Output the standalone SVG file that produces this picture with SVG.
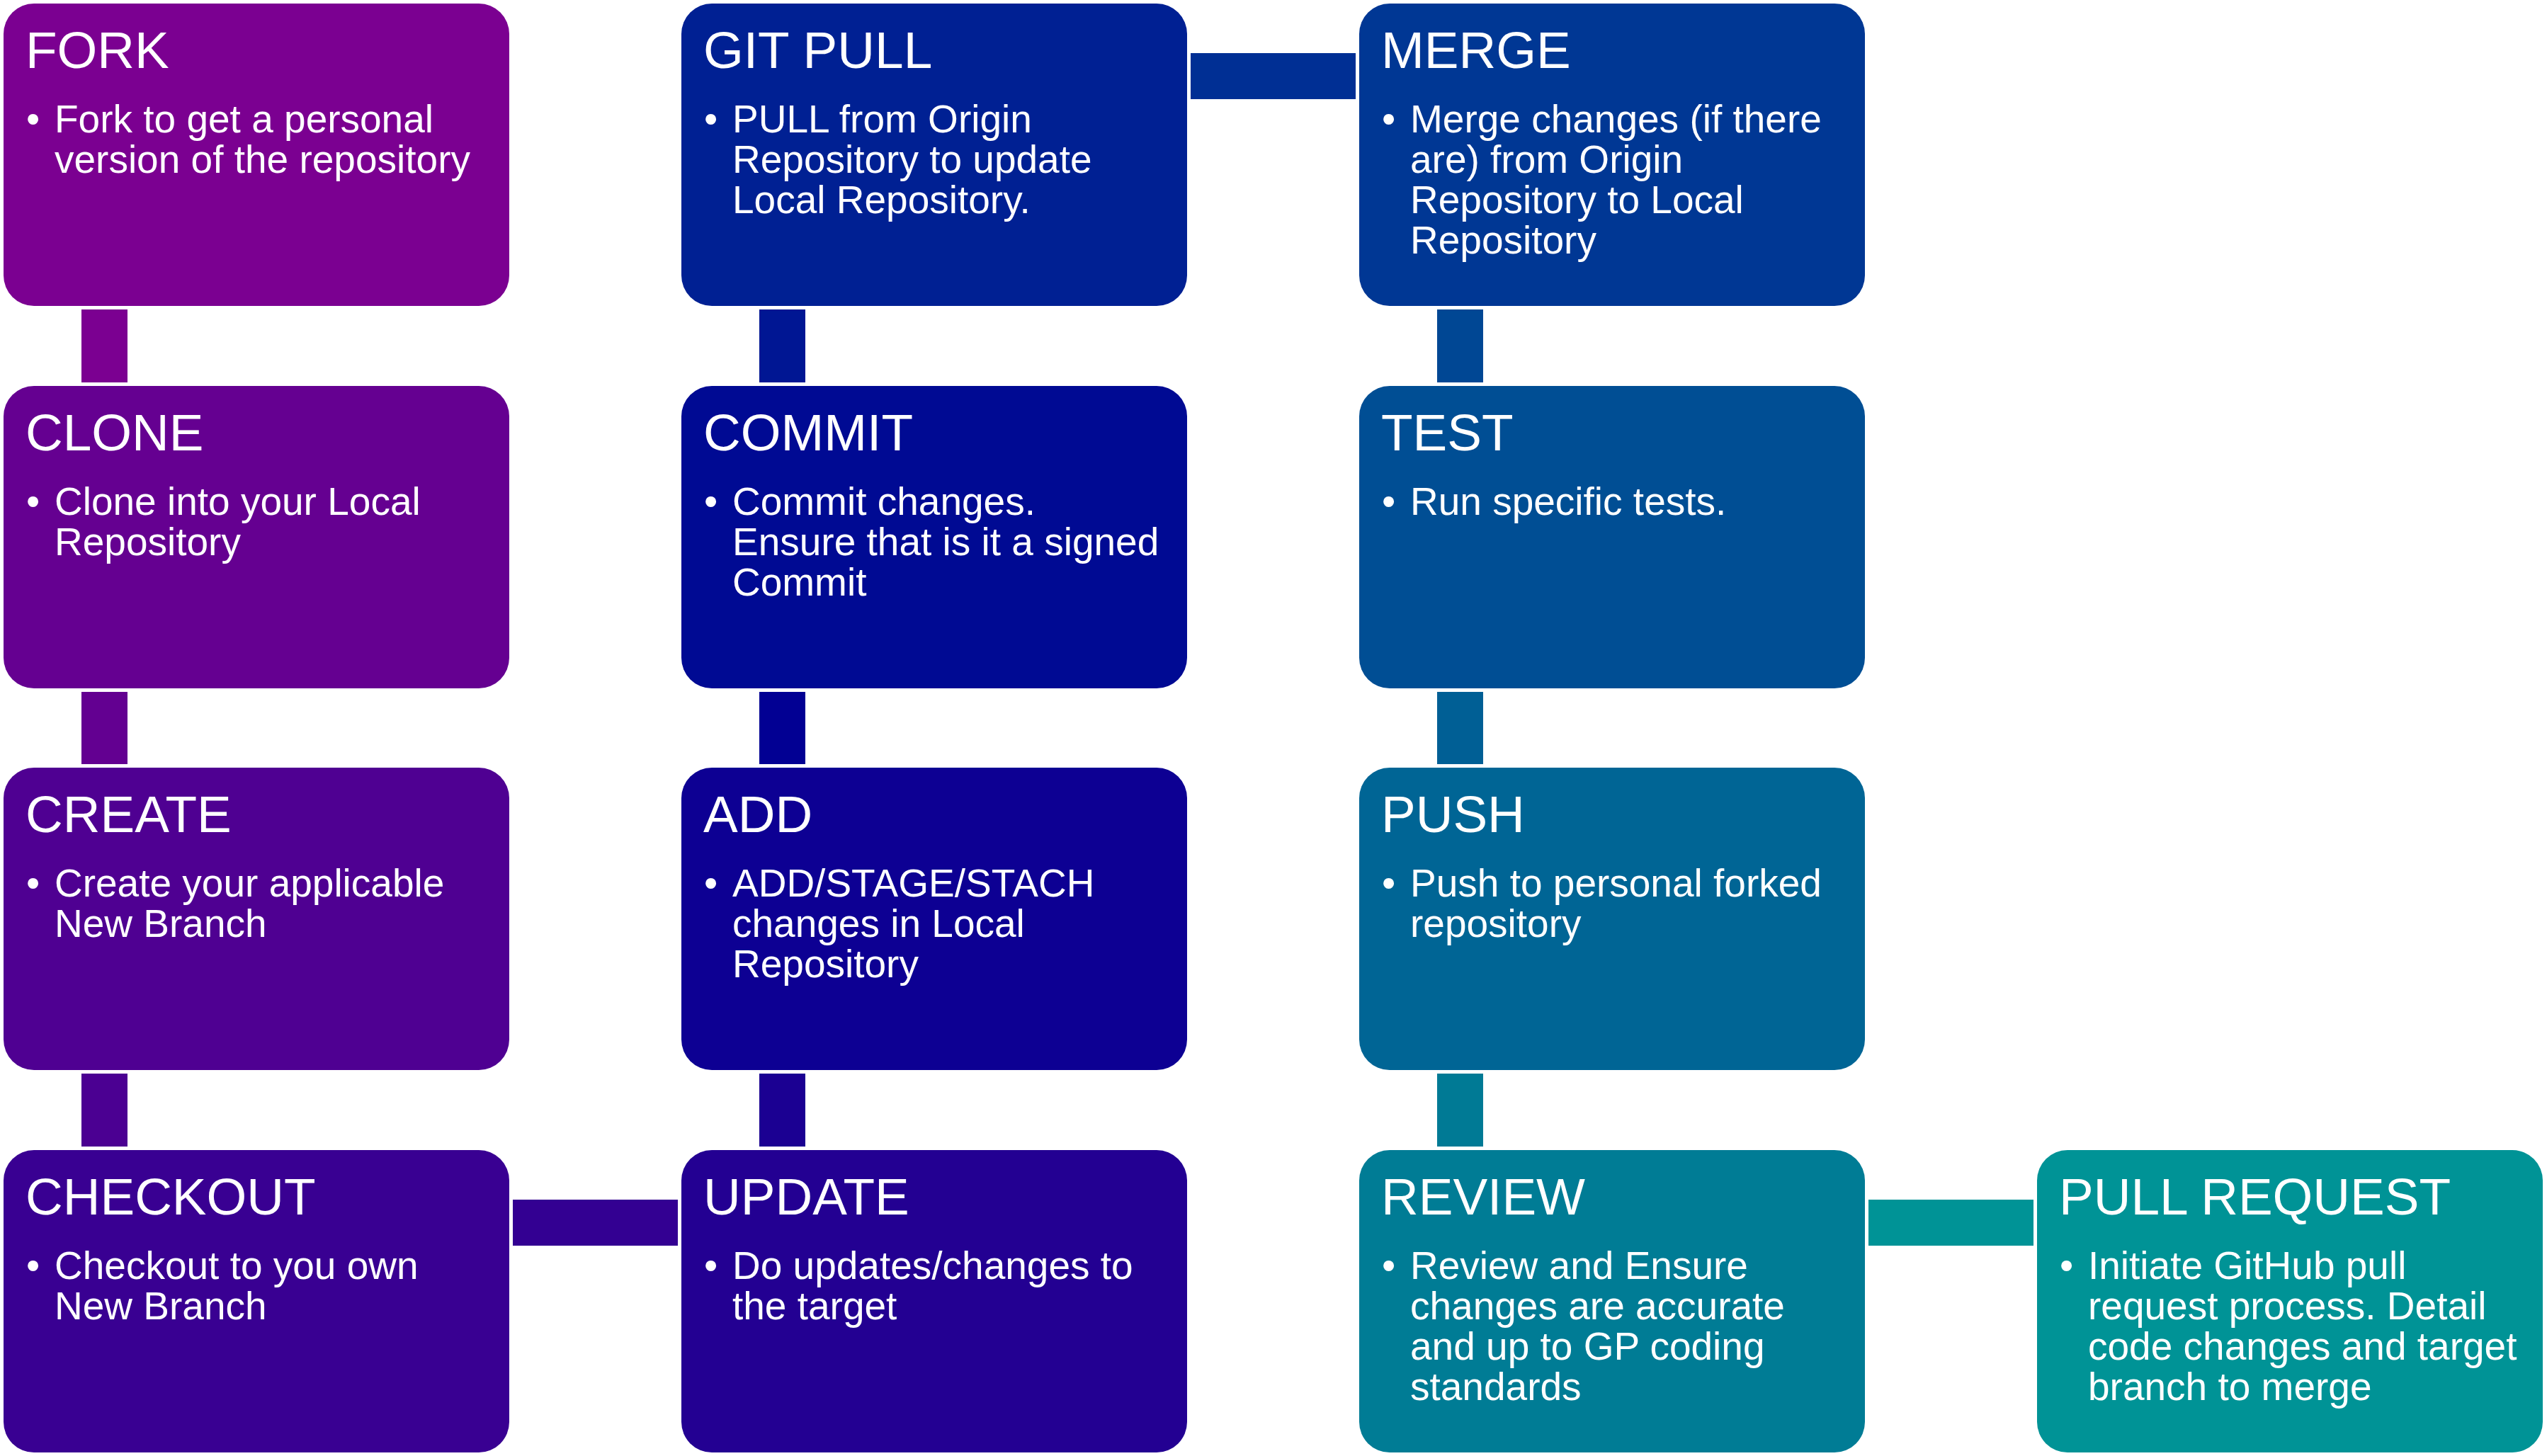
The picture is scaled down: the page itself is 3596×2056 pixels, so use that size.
<svg xmlns="http://www.w3.org/2000/svg" width="3596" height="2056" viewBox="0 0 3596 2056">
<style>
text { font-family: "Liberation Sans", Arial, sans-serif; fill: #ffffff; }
.t { font-size: 73px; }
.b { font-size: 55px; }
</style>
<rect x="0" y="0" width="3596" height="2056" fill="#ffffff"/>
<g id="connectors">
  <rect x="115" y="437" width="65" height="103" fill="#7B0091"/>
  <rect x="115" y="977" width="65" height="102" fill="#630091"/>
  <rect x="115" y="1516" width="65" height="103" fill="#4B0092"/>
  <rect x="724" y="1694" width="233" height="65" fill="#330092"/>
  <rect x="1072" y="1516" width="65" height="103" fill="#1B0092"/>
  <rect x="1072" y="977" width="65" height="102" fill="#020093"/>
  <rect x="1072" y="437" width="65" height="103" fill="#001693"/>
  <rect x="1681" y="75" width="233" height="65" fill="#002F94"/>
  <rect x="2029" y="437" width="65" height="103" fill="#004794"/>
  <rect x="2029" y="977" width="65" height="102" fill="#005F95"/>
  <rect x="2029" y="1516" width="65" height="103" fill="#007A95"/>
  <rect x="2638" y="1694" width="233" height="65" fill="#009396"/>
</g>
<g id="fork">
  <rect x="5" y="5" width="714" height="427" rx="43" fill="#7B0091"/>
  <text class="t" x="36" y="96">FORK</text>
  <text class="b"><tspan x="37" y="187">•</tspan><tspan x="77" y="187">Fork to get a personal</tspan><tspan x="77" dy="57">version of the repository</tspan></text>
</g>
<g id="clone">
  <rect x="5" y="545" width="714" height="427" rx="43" fill="#650091"/>
  <text class="t" x="36" y="636">CLONE</text>
  <text class="b"><tspan x="37" y="727">•</tspan><tspan x="77" y="727">Clone into your Local</tspan><tspan x="77" dy="57">Repository</tspan></text>
</g>
<g id="create">
  <rect x="5" y="1084" width="714" height="427" rx="43" fill="#4F0092"/>
  <text class="t" x="36" y="1175">CREATE</text>
  <text class="b"><tspan x="37" y="1266">•</tspan><tspan x="77" y="1266">Create your applicable</tspan><tspan x="77" dy="57">New Branch</tspan></text>
</g>
<g id="checkout">
  <rect x="5" y="1624" width="714" height="427" rx="43" fill="#390092"/>
  <text class="t" x="36" y="1715">CHECKOUT</text>
  <text class="b"><tspan x="37" y="1806">•</tspan><tspan x="77" y="1806">Checkout to you own</tspan><tspan x="77" dy="57">New Branch</tspan></text>
</g>
<g id="update">
  <rect x="962" y="1624" width="714" height="427" rx="43" fill="#230092"/>
  <text class="t" x="993" y="1715">UPDATE</text>
  <text class="b"><tspan x="994" y="1806">•</tspan><tspan x="1034" y="1806">Do updates/changes to</tspan><tspan x="1034" dy="57">the target</tspan></text>
</g>
<g id="add">
  <rect x="962" y="1084" width="714" height="427" rx="43" fill="#0D0093"/>
  <text class="t" x="993" y="1175">ADD</text>
  <text class="b"><tspan x="994" y="1266">•</tspan><tspan x="1034" y="1266">ADD/STAGE/STACH</tspan><tspan x="1034" dy="57">changes in Local</tspan><tspan x="1034" dy="57">Repository</tspan></text>
</g>
<g id="commit">
  <rect x="962" y="545" width="714" height="427" rx="43" fill="#000A93"/>
  <text class="t" x="993" y="636">COMMIT</text>
  <text class="b"><tspan x="994" y="727">•</tspan><tspan x="1034" y="727">Commit changes.</tspan><tspan x="1034" dy="57">Ensure that is it a signed</tspan><tspan x="1034" dy="57">Commit</tspan></text>
</g>
<g id="git-pull">
  <rect x="962" y="5" width="714" height="427" rx="43" fill="#002093"/>
  <text class="t" x="993" y="96">GIT PULL</text>
  <text class="b"><tspan x="994" y="187">•</tspan><tspan x="1034" y="187">PULL from Origin</tspan><tspan x="1034" dy="57">Repository to update</tspan><tspan x="1034" dy="57">Local Repository.</tspan></text>
</g>
<g id="merge">
  <rect x="1919" y="5" width="714" height="427" rx="43" fill="#003794"/>
  <text class="t" x="1950" y="96">MERGE</text>
  <text class="b"><tspan x="1951" y="187">•</tspan><tspan x="1991" y="187">Merge changes (if there</tspan><tspan x="1991" dy="57">are) from Origin</tspan><tspan x="1991" dy="57">Repository to Local</tspan><tspan x="1991" dy="57">Repository</tspan></text>
</g>
<g id="test">
  <rect x="1919" y="545" width="714" height="427" rx="43" fill="#004E94"/>
  <text class="t" x="1950" y="636">TEST</text>
  <text class="b"><tspan x="1951" y="727">•</tspan><tspan x="1991" y="727">Run specific tests.</tspan></text>
</g>
<g id="push">
  <rect x="1919" y="1084" width="714" height="427" rx="43" fill="#006595"/>
  <text class="t" x="1950" y="1175">PUSH</text>
  <text class="b"><tspan x="1951" y="1266">•</tspan><tspan x="1991" y="1266">Push to personal forked</tspan><tspan x="1991" dy="57">repository</tspan></text>
</g>
<g id="review">
  <rect x="1919" y="1624" width="714" height="427" rx="43" fill="#007C95"/>
  <text class="t" x="1950" y="1715">REVIEW</text>
  <text class="b"><tspan x="1951" y="1806">•</tspan><tspan x="1991" y="1806">Review and Ensure</tspan><tspan x="1991" dy="57">changes are accurate</tspan><tspan x="1991" dy="57">and up to GP coding</tspan><tspan x="1991" dy="57">standards</tspan></text>
</g>
<g id="pull-request">
  <rect x="2876" y="1624" width="714" height="427" rx="43" fill="#009396"/>
  <text class="t" x="2907" y="1715">PULL REQUEST</text>
  <text class="b"><tspan x="2908" y="1806">•</tspan><tspan x="2948" y="1806">Initiate GitHub pull</tspan><tspan x="2948" dy="57">request process. Detail</tspan><tspan x="2948" dy="57">code changes and target</tspan><tspan x="2948" dy="57">branch to merge</tspan></text>
</g>
</svg>
